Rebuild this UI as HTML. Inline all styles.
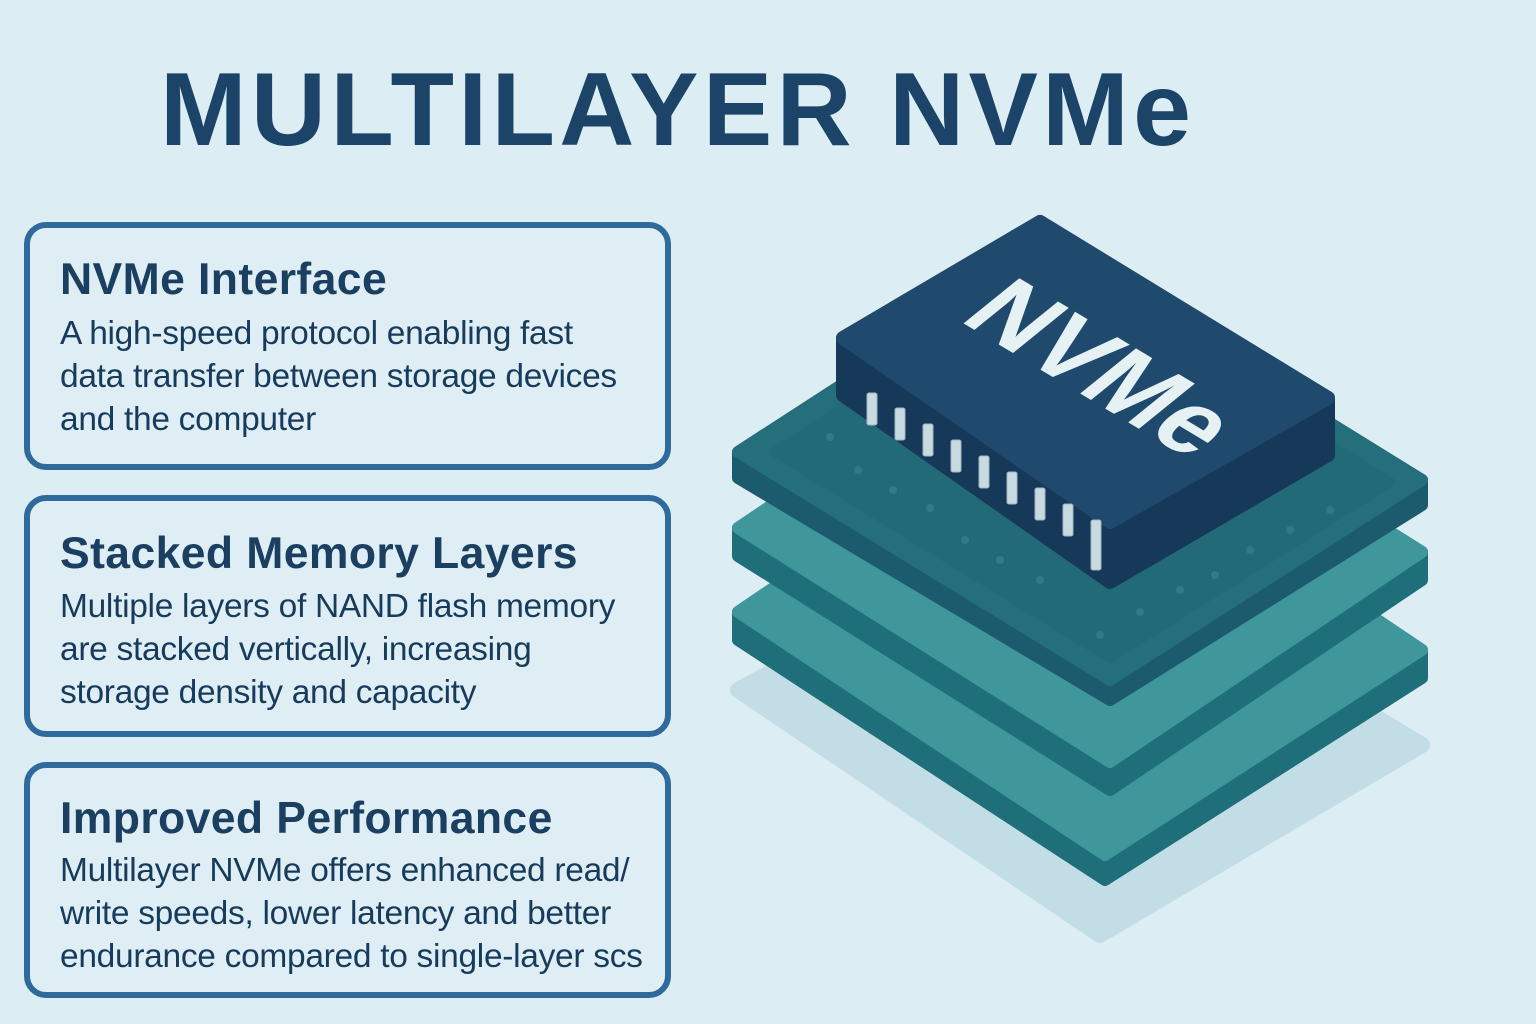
<!DOCTYPE html>
<html><head><meta charset="utf-8"><style>
html,body{margin:0;padding:0;}
body{width:1536px;height:1024px;background:#dcedf3;position:relative;overflow:hidden;font-family:"Liberation Sans",sans-serif;color:#173b5c;}
.title{position:absolute;left:160px;top:58px;font-size:104px;font-weight:bold;color:#1b4468;line-height:1;letter-spacing:4.3px;white-space:nowrap;}
.box{position:absolute;left:24px;width:647px;border:6px solid #2e6a9c;border-radius:22px;box-sizing:border-box;background:#deeef4;}
.box h2{margin:0;position:absolute;left:30px;font-size:44.5px;font-weight:bold;color:#1b3f60;white-space:nowrap;letter-spacing:0.4px;}
.box p{margin:0;position:absolute;left:30px;font-size:33.5px;line-height:43px;color:#173b5c;white-space:nowrap;letter-spacing:-0.3px;}
</style></head><body>
<div class="title">MULTILAYER NVMe</div>

<div class="box" style="top:222px;height:248px;">
<h2 style="top:27px;">NVMe Interface</h2>
<p style="top:84px;">A high-speed protocol enabling fast<br>data transfer between storage devices<br>and the computer</p>
</div>
<div class="box" style="top:495px;height:242px;">
<h2 style="top:28px;">Stacked Memory Layers</h2>
<p style="top:84px;">Multiple layers of NAND flash memory<br>are stacked vertically, increasing<br>storage density and capacity</p>
</div>
<div class="box" style="top:762px;height:236px;">
<h2 style="top:26px;">Improved Performance</h2>
<p style="top:81px;">Multilayer NVMe offers enhanced read/<br>write speeds, lower latency and better<br>endurance compared to single-layer scs</p>
</div>

<svg width="1536" height="1024" style="position:absolute;left:0;top:0" viewBox="0 0 1536 1024">
<g stroke-linejoin="round">
<polygon points="738,690 1050,520 1422,745 1100,935" fill="#c3dde6" stroke="#c3dde6" stroke-width="16"/>
<polygon points="738,612 1050,400 1422,650 1422,678 1105,880 738,640" fill="#1f6f7a" stroke="#1f6f7a" stroke-width="12"/>
<polygon points="738,612 1050,400 1422,650 1105,855" fill="#3f969b" stroke="#3f969b" stroke-width="12"/>
<polygon points="738,528 1050,318 1422,552 1422,580 1110,790 738,556" fill="#1f6f7a" stroke="#1f6f7a" stroke-width="12"/>
<polygon points="738,528 1050,318 1422,552 1110,762" fill="#3f969b" stroke="#3f969b" stroke-width="12"/>
<polygon points="738,452 1050,250 1422,480 1422,505 1110,700 738,478" fill="#1c5a6e" stroke="#1c5a6e" stroke-width="12"/>
<polygon points="738,452 1050,250 1422,480 1110,680" fill="#256e7c" stroke="#256e7c" stroke-width="12"/>
<polygon points="775,452 1050,275 1390,482 1110,658" fill="#236a78" stroke="#236a78" stroke-width="10"/>
<g fill="#2e7c86">
<circle cx="830" cy="437" r="4"/><circle cx="858" cy="470" r="4"/><circle cx="893" cy="490" r="4"/><circle cx="930" cy="508" r="4"/><circle cx="965" cy="540" r="4"/><circle cx="1000" cy="560" r="4"/><circle cx="1040" cy="580" r="4"/><circle cx="1180" cy="590" r="4"/><circle cx="1215" cy="575" r="4"/><circle cx="1250" cy="550" r="4"/><circle cx="1290" cy="530" r="4"/><circle cx="1330" cy="510" r="4"/><circle cx="1100" cy="635" r="4"/><circle cx="1140" cy="612" r="4"/>
</g>
<polygon points="843,338 1040,222 1328,398 1328,455 1110,582 843,395" fill="#16395a" stroke="#16395a" stroke-width="14"/>
<polygon points="843,338 1040,222 1328,398 1110,522" fill="#1f4a6e" stroke="#1f4a6e" stroke-width="14"/>
<g fill="#c9dbe0" stroke="#9fb6bd" stroke-width="1">
<rect x="867" y="393" width="10" height="32" rx="2"/>
<rect x="895" y="408" width="10" height="32" rx="2"/>
<rect x="923" y="424" width="10" height="32" rx="2"/>
<rect x="951" y="440" width="10" height="32" rx="2"/>
<rect x="979" y="456" width="10" height="32" rx="2"/>
<rect x="1007" y="472" width="10" height="32" rx="2"/>
<rect x="1035" y="488" width="10" height="32" rx="2"/>
<rect x="1063" y="504" width="10" height="32" rx="2"/>
<rect x="1091" y="520" width="10" height="50" rx="2"/>
</g>
</g>
<text x="0" y="0" transform="translate(958,320) rotate(31) skewX(-20)" font-family="Liberation Sans, sans-serif" font-weight="bold" font-size="98" fill="#e6f1f3">NVMe</text>
</svg>
</body></html>
